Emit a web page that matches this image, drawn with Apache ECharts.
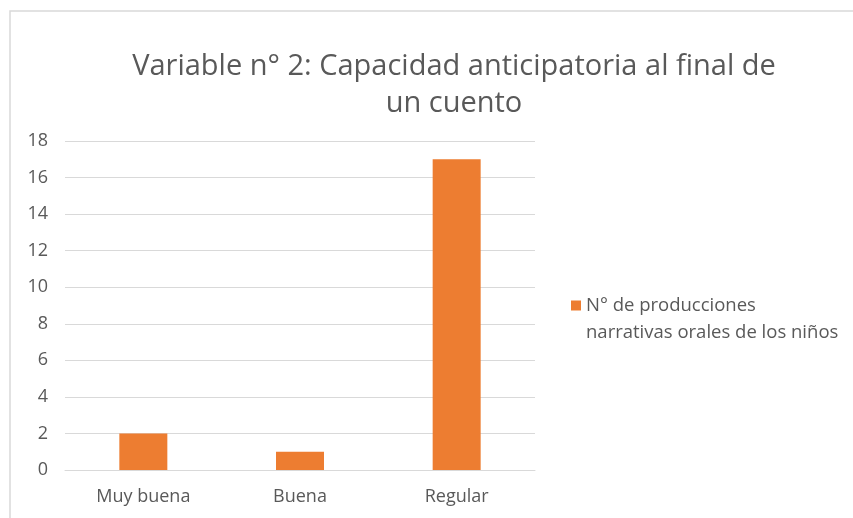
<!DOCTYPE html>
<html>
<head>
<meta charset="utf-8">
<script src="https://cdn.jsdelivr.net/npm/echarts@6/dist/echarts.min.js"></script>
<style>
  html, body { margin: 0; padding: 0; background: #fff; }
  #chart { width: 853px; height: 518px; }
</style>
</head>
<body>
<div id="chart"></div>
<script>
// datos
const categorias = ['Muy buena', 'Buena', 'Regular']
const producciones = [2, 1, 17]
const nombreSerie = 'N° de producciones\nnarrativas orales de los niños'
const titulo = 'Variable n° 2: Capacidad anticipatoria al final de\nun cuento'

const gris = '#595959'
const chart = echarts.init(document.getElementById('chart'))

chart.setOption({
  textStyle: { fontFamily: 'Open Sans' },
  // marco del gráfico
  graphic: [{
    type: 'rect',
    shape: { x: 10, y: 11, width: 900, height: 600 },
    style: { fill: 'none', stroke: '#d9d9d9', lineWidth: 1.5 },
    silent: true
  }],
  title: {
    text: titulo,
    left: 449,
    top: 43,
    textAlign: 'center',
    textStyle: { fontSize: 29, fontWeight: 'normal', color: gris, lineHeight: 37, fontFamily: 'Open Sans' }
  },
  legend: {
    left: 571,
    top: 265,
    padding: 0,
    icon: 'rect',
    itemWidth: 10,
    itemHeight: 10,
    textStyle: { fontSize: 18.5, color: gris, lineHeight: 27 },
    // línea vacía arriba para que el cuadro quede a la altura de la primera línea
    formatter: name => '\n' + name,
    data: [nombreSerie]
  },
  grid: { left: 65, right: 318, top: 141, bottom: 48 },
  xAxis: {
    type: 'category',
    data: categorias,
    axisLine: { lineStyle: { color: '#d9d9d9' } },
    axisTick: { show: false },
    axisLabel: { color: gris, fontSize: 18, margin: 18 }
  },
  yAxis: {
    type: 'value',
    min: 0,
    max: 18,
    interval: 2,
    axisLine: { show: false },
    axisTick: { show: false },
    axisLabel: { color: gris, fontSize: 18, margin: 17 },
    splitLine: { lineStyle: { color: '#d9d9d9' } }
  },
  series: [{
    name: nombreSerie,
    type: 'bar',
    data: producciones,
    barWidth: 48,
    itemStyle: { color: '#ED7D31' }
  }]
})
</script>
</body>
</html>
